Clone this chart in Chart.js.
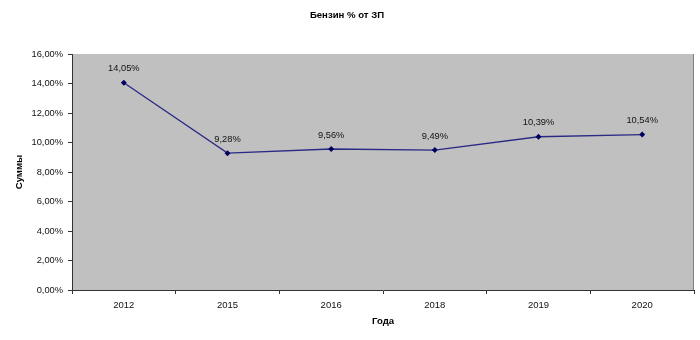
<!DOCTYPE html>
<html>
<head>
<meta charset="utf-8">
<script src="https://cdn.jsdelivr.net/npm/chart.js@4"></script>
<style>
  html, body { margin: 0; padding: 0; background: #fff; }
  #wrap { width: 700px; height: 340px; }
</style>
</head>
<body>
<div id="wrap"><canvas id="c" width="700" height="340"></canvas></div>
<script>
const years = ['2012', '2015', '2016', '2018', '2019', '2020'];
const shares = [14.05, 9.28, 9.56, 9.49, 10.39, 10.54];
const yTicks = [0, 2, 4, 6, 8, 10, 12, 14, 16];
const chartTitle = 'Бензин % от ЗП';
const xTitle = 'Года';
const yTitle = 'Суммы';

const fmt = v => v.toFixed(2).replace('.', ',') + '%';
const FONT = '"Liberation Sans", Arial, sans-serif';

const plotBg = {
  id: 'plotBg',
  beforeDraw(chart) {
    const { ctx, chartArea: a } = chart;
    ctx.save();
    ctx.fillStyle = '#C0C0C0';
    ctx.fillRect(a.left, a.top, a.right - a.left, a.bottom - a.top);
    ctx.strokeStyle = '#808080';
    ctx.lineWidth = 1;
    ctx.beginPath();
    ctx.moveTo(a.right - 0.5, a.top);
    ctx.lineTo(a.right - 0.5, a.bottom);
    ctx.stroke();
    ctx.restore();
  }
};

const dataLabels = {
  id: 'dataLabels',
  afterDatasetsDraw(chart) {
    const { ctx } = chart;
    const meta = chart.getDatasetMeta(0);
    ctx.save();
    ctx.font = '9.3px ' + FONT;
    ctx.fillStyle = '#111';
    ctx.textAlign = 'center';
    ctx.textBaseline = 'middle';
    meta.data.forEach((pt, i) => {
      ctx.fillText(fmt(shares[i]), pt.x, pt.y - 14);
    });
    ctx.restore();
  }
};

new Chart(document.getElementById('c'), {
  type: 'line',
  data: {
    labels: years,
    datasets: [{
      data: shares,
      borderColor: '#2a2a85',
      backgroundColor: '#000080',
      borderWidth: 1.3,
      tension: 0,
      pointStyle: 'rectRot',
      pointRadius: 3,
      pointBorderWidth: 0,
      pointBackgroundColor: '#000060'
    }]
  },
  options: {
    responsive: false,
    animation: false,
    devicePixelRatio: 1,
    layout: { padding: { left: 0, right: 6, top: 0, bottom: 0 } },
    plugins: {
      legend: { display: false },
      tooltip: { enabled: false },
      title: {
        display: true,
        text: chartTitle,
        color: '#000',
        font: { family: FONT, size: 9.6, weight: 'bold' },
        padding: { top: 9.5, bottom: 33 }
      }
    },
    scales: {
      x: {
        offset: true,
        grid: {
          display: true,
          offset: true,
          drawOnChartArea: false,
          drawTicks: true,
          tickLength: 4,
          color: '#333',
          lineWidth: 1
        },
        border: { display: true, color: '#333', width: 1 },
        ticks: {
          color: '#111',
          font: { family: FONT, size: 9.5 },
          padding: 6,
          maxRotation: 0
        },
        title: {
          display: true,
          text: xTitle,
          color: '#000',
          font: { family: FONT, size: 9.6, weight: 'bold' },
          padding: { top: 0, bottom: 13 }
        },
        afterFit(scale) { scale.height = 50; }
      },
      y: {
        min: 0,
        max: 16,
        afterBuildTicks(scale) { scale.ticks = yTicks.map(v => ({ value: v })); },
        grid: {
          display: true,
          drawOnChartArea: false,
          drawTicks: true,
          tickLength: 4,
          color: '#333',
          lineWidth: 1
        },
        border: { display: true, color: '#333', width: 1 },
        ticks: {
          color: '#111',
          font: { family: FONT, size: 9.3 },
          padding: 5,
          callback: v => fmt(v)
        },
        title: {
          display: true,
          text: yTitle,
          color: '#000',
          font: { family: FONT, size: 9.6, weight: 'bold' },
          padding: { top: 14, bottom: 0 }
        },
        afterFit(scale) { scale.width = 72; }
      }
    }
  },
  plugins: [plotBg, dataLabels]
});
</script>
</body>
</html>
